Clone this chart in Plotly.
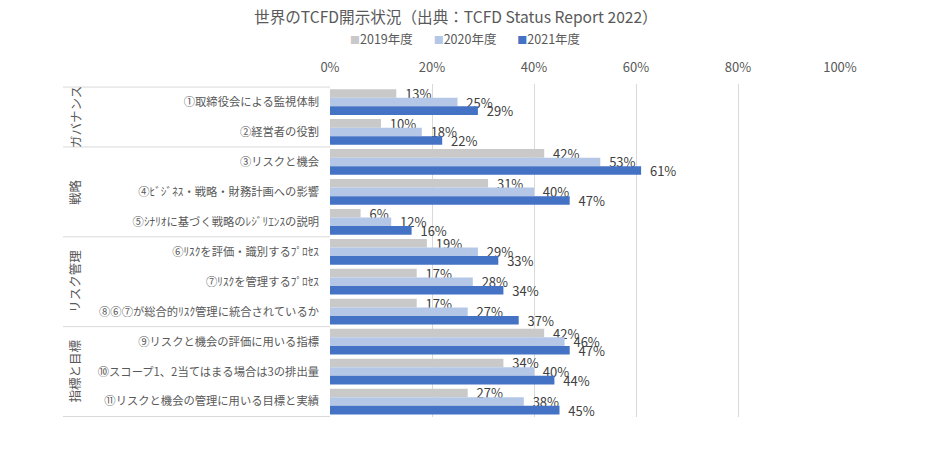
import plotly.graph_objects as go

categories = [
    "①取締役会による監視体制",
    "②経営者の役割",
    "③リスクと機会",
    "④ﾋﾞｼﾞﾈｽ・戦略・財務計画への影響",
    "⑤ｼﾅﾘｵに基づく戦略のﾚｼﾞﾘｴﾝｽの説明",
    "⑥ﾘｽｸを評価・識別するﾌﾟﾛｾｽ",
    "⑦ﾘｽｸを管理するﾌﾟﾛｾｽ",
    "⑧⑥⑦が総合的ﾘｽｸ管理に統合されているか",
    "⑨リスクと機会の評価に用いる指標",
    "⑩スコープ1、2当てはまる場合は3の排出量",
    "⑪リスクと機会の管理に用いる目標と実績",
]
v2019 = [13, 10, 42, 31, 6, 19, 17, 17, 42, 34, 27]
v2020 = [25, 18, 53, 40, 12, 29, 28, 27, 46, 40, 38]
v2021 = [29, 22, 61, 47, 16, 33, 34, 37, 47, 44, 45]
series_names = ["2019年度", "2020年度", "2021年度"]
colors = ["#c9c9c9", "#b4c7e7", "#4472c4"]

groups = ["ガバナンス", "戦略", "リスク管理", "指標と目標"]
group_first = [0, 2, 5, 8]
group_last = [1, 4, 7, 10]

FONT = "Noto Sans CJK JP"

fig = go.Figure()
for name, vals, col in zip(series_names, [v2019, v2020, v2021], colors):
    fig.add_trace(go.Bar(
        y=categories, x=vals, name=name, orientation="h",
        marker=dict(color=col, line=dict(width=0)),
        text=[f"\u00a0\u00a0{v}%" for v in vals], textposition="outside",
        textfont=dict(family=FONT, size=13, color="#404040"),
        constraintext="none", cliponaxis=False, showlegend=False,
    ))

shapes = []
bounds = [-0.5] + [g + 0.5 for g in group_last]
for b in bounds:
    shapes.append(dict(type="line", xref="paper", yref="y", x0=-0.5235, x1=0,
                       y0=b, y1=b, line=dict(color="#d9d9d9", width=1)))

annotations = []
for g, a, b in zip(groups, group_first, group_last):
    annotations.append(dict(text=g, xref="paper", yref="y", x=-0.5, y=(a + b) / 2,
                            xanchor="center", yanchor="middle",
                            textangle=-90, showarrow=False,
                            font=dict(family=FONT, size=12.5, color="#595959")))

# legend drawn as a single text line built from the series names and colours
legend_text = "\u3000\u00a0\u00a0\u00a0".join(
    f"<span style='color:{c};font-size:10px'>■</span>{n}"
    for n, c in zip(series_names, colors)
)
annotations.append(dict(text=legend_text, xref="paper", yref="paper",
                        x=(465 - 330) / 510, y=1 + (85 - 40) / 331,
                        xanchor="center", yanchor="middle", showarrow=False,
                        font=dict(family=FONT, size=12.5, color="#595959")))

fig.update_layout(
    width=940, height=451,
    margin=dict(l=330, r=100, t=84, b=34),
    paper_bgcolor="white", plot_bgcolor="white",
    barmode="group", bargap=0.14, bargroupgap=0,
    font=dict(family=FONT, color="#595959"),
    showlegend=False,
    title=dict(text="世界のTCFD開示状況（出典：TCFD Status Report 2022）",
               x=0.485, xref="container", y=1 - 18 / 451, yref="container",
               xanchor="center", yanchor="middle",
               font=dict(family=FONT, size=15.6, color="#595959")),
    xaxis=dict(side="top", range=[0, 100], tickvals=[0, 20, 40, 60, 80, 100],
               ticktext=["0%", "20%", "40%", "60%", "80%", "100%"],
               showgrid=True, gridcolor="#d9d9d9", gridwidth=1, zeroline=False,
               showline=False, ticks="", ticklabelstandoff=8, automargin=False,
               tickfont=dict(family=FONT, size=13, color="#595959")),
    yaxis=dict(autorange="reversed", type="category", showgrid=False, showline=False,
               ticks="", ticklabelstandoff=10, automargin=False,
               tickfont=dict(family=FONT, size=11.3, color="#595959")),
    shapes=shapes, annotations=annotations,
)

fig.write_html("out.html")
